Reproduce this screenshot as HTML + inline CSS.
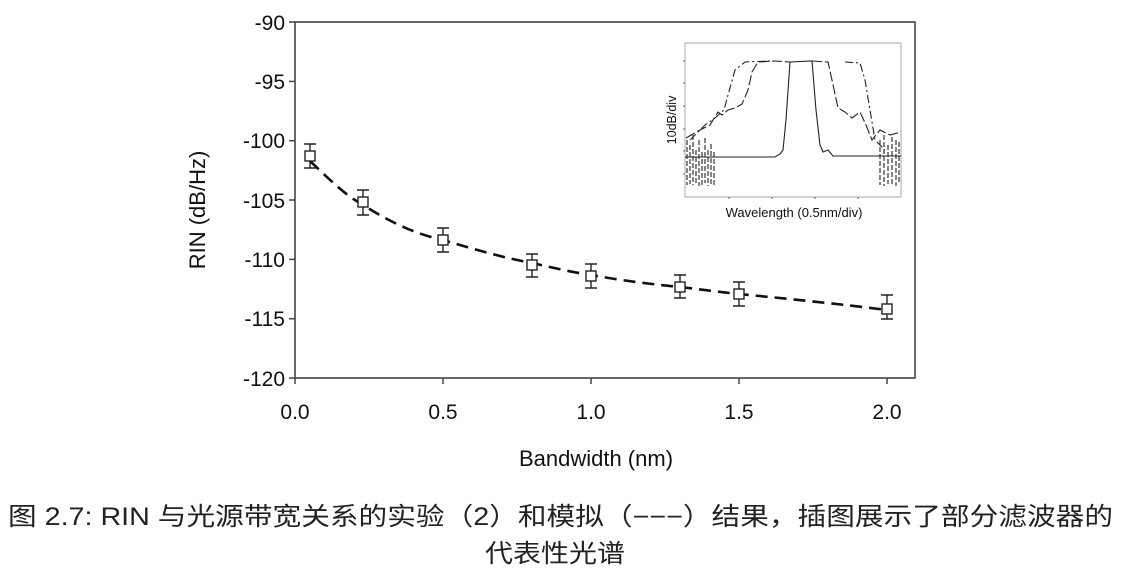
<!DOCTYPE html>
<html><head><meta charset="utf-8"><style>
html,body{margin:0;padding:0;background:#fff;}
svg{display:block;}
text{font-family:"Liberation Sans",Arial,sans-serif;fill:#111;}
.cap{font-family:"Liberation Sans","Noto Sans CJK SC",sans-serif;font-size:25px;fill:#222;}
</style></head><body>
<svg width="1130" height="569" viewBox="0 0 1130 569" xmlns="http://www.w3.org/2000/svg">
<rect x="295" y="22" width="620" height="356" fill="none" stroke="#444" stroke-width="1.6"/>
<g stroke="#444" stroke-width="1.5">
<line x1="289" y1="22" x2="295" y2="22"/><line x1="289" y1="81.4" x2="295" y2="81.4"/>
<line x1="289" y1="140.7" x2="295" y2="140.7"/><line x1="289" y1="200" x2="295" y2="200"/>
<line x1="289" y1="259.4" x2="295" y2="259.4"/><line x1="289" y1="318.7" x2="295" y2="318.7"/>
<line x1="289" y1="378" x2="295" y2="378"/>
<line x1="295" y1="378" x2="295" y2="384"/><line x1="443" y1="378" x2="443" y2="384"/>
<line x1="591" y1="378" x2="591" y2="384"/><line x1="739" y1="378" x2="739" y2="384"/>
<line x1="887" y1="378" x2="887" y2="384"/>
</g>
<g font-size="21" text-anchor="end">
<text x="285" y="30">-90</text><text x="285" y="89">-95</text><text x="285" y="148">-100</text>
<text x="285" y="208">-105</text><text x="285" y="267">-110</text><text x="285" y="326">-115</text>
<text x="285" y="386">-120</text>
</g>
<g font-size="21" text-anchor="middle">
<text x="295" y="419">0.0</text><text x="443" y="419">0.5</text><text x="591" y="419">1.0</text>
<text x="739" y="419">1.5</text><text x="887" y="419">2.0</text>
</g>
<text x="596" y="466" font-size="22" text-anchor="middle">Bandwidth (nm)</text>
<text transform="translate(205,210) rotate(-90)" font-size="22" text-anchor="middle">RIN (dB/Hz)</text>
<path d="M310,161 C330,180 345,195 363,205 C390,222 415,234 443,240 C480,251 505,258 532,263 C555,268 570,272 591,275 C625,281 650,284 680,287 C705,290 720,292 739,294 C790,299 840,304 887,310" fill="none" stroke="#111" stroke-width="2.6" stroke-dasharray="12,7"/>
<g stroke="#222" stroke-width="1.4" fill="#fff">
<path d="M310,144V168M304,144h12M304,168h12 M363,190V215M357,190h12M357,215h12 M443,228V252M437,228h12M437,252h12 M532,254V277M526,254h12M526,277h12 M591,264V288M585,264h12M585,288h12 M680,275V298M674,275h12M674,298h12 M739,282V306M733,282h12M733,306h12 M887,295V319M881,295h12M881,319h12" fill="none"/>
<rect x="305" y="151" width="10" height="10"/><rect x="358" y="197" width="10" height="10"/>
<rect x="438" y="235" width="10" height="10"/><rect x="527" y="260" width="10" height="10"/>
<rect x="586" y="271" width="10" height="10"/><rect x="675" y="282" width="10" height="10"/>
<rect x="734" y="289" width="10" height="10"/><rect x="882" y="304" width="10" height="10"/>
</g>
<rect x="685" y="43" width="216" height="154" fill="#fff" stroke="#aaa" stroke-width="1"/>
<g stroke="#666" stroke-width="1">
<line x1="683" y1="61" x2="685" y2="61"/><line x1="683" y1="83" x2="685" y2="83"/><line x1="683" y1="106" x2="685" y2="106"/>
<line x1="683" y1="129" x2="685" y2="129"/><line x1="683" y1="151" x2="685" y2="151"/><line x1="683" y1="174" x2="685" y2="174"/>
<line x1="729" y1="197" x2="729" y2="199"/><line x1="772" y1="197" x2="772" y2="199"/><line x1="815" y1="197" x2="815" y2="199"/><line x1="858" y1="197" x2="858" y2="199"/>
</g>
<g fill="none" stroke="#222" stroke-width="1.1">
<path d="M685,157 L775,157 L780,154 L783,150 L786,120 L790,62 L812,61 L816,110 L820,145 L823,152 L828,150 L833,156 L901,156"/>
<path d="M686,138 L700,130 L710,125 L718,112 L722,115 L728,110 L735,108 L742,104 L748,90 L752,72 L758,62 L775,61 L790,62" stroke-dasharray="10,3"/>
<path d="M812,61 L828,62 L832,80 L838,108 L845,112 L852,118 L860,112 L866,125 L872,140 L880,130 L890,135 L901,132" stroke-dasharray="10,3"/>
<path d="M690,140 L705,125 L715,118 L724,110 L728,95 L735,70 L745,62 L770,61 M845,62 L860,63 L865,80 L870,110 L875,140 L885,150" stroke-dasharray="8,3,2,3"/>
<path d="M687,140 V185 M690,145 V184 M693,135 V185 M696,150 V183 M699,140 V186 M702,152 V185 M705,138 V183 M708,150 V186 M711,144 V184 M714,152 V186 M880,140 V185 M884,135 V186 M888,145 V184 M892,137 V185 M896,140 V186 M899,142 V184" stroke-width="1.1" stroke-dasharray="5,2"/>
</g>
<text transform="translate(676,120) rotate(-90)" font-size="12.5" text-anchor="middle">10dB/div</text>
<text x="794" y="217" font-size="13" text-anchor="middle">Wavelength (0.5nm/div)</text>
<text class="cap" x="8" y="525" textLength="1105" lengthAdjust="spacingAndGlyphs">图 2.7:  RIN 与光源带宽关系的实验（2）和模拟（−−−）结果，插图展示了部分滤波器的</text>
<text class="cap" x="485" y="562" textLength="140" lengthAdjust="spacingAndGlyphs">代表性光谱</text>
</svg>
</body></html>
